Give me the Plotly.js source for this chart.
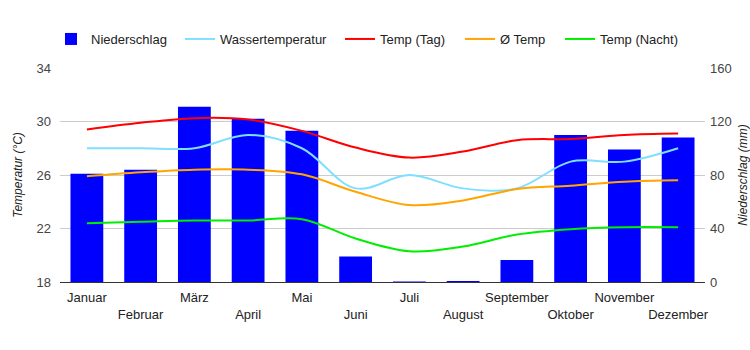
<!DOCTYPE html>
<html>
<head>
<meta charset="utf-8">
<script src="https://cdn.plot.ly/plotly-3.0.1.min.js"></script>
<style>html,body{margin:0;padding:0;background:#fff;}#chart{width:750px;height:350px;}</style>
</head>
<body>
<div id="chart"></div>
<script>
const months = ["Januar","Februar","März","April","Mai","Juni","Juli","August","September","Oktober","November","Dezember"];
const niederschlag = [81, 84, 131, 122, 113, 19, 0.4, 0.8, 16.5, 110, 99, 108];
const wassertemp = [28, 28, 28, 29, 28, 25, 26, 25, 25, 27, 27, 28];
const tempTag = [29.4, 29.9, 30.25, 30.15, 29.3, 28.05, 27.3, 27.75, 28.6, 28.7, 29.0, 29.1];
const tempAvg = [25.9, 26.2, 26.4, 26.4, 26.05, 24.75, 23.75, 24.1, 24.95, 25.2, 25.5, 25.6];
const tempNacht = [22.4, 22.5, 22.6, 22.6, 22.7, 21.25, 20.3, 20.65, 21.55, 21.95, 22.1, 22.1];
const tempTicks = [18, 22, 26, 30, 34];
const precipTicks = [0, 40, 80, 120, 160];

const tickText = months.map((m, i) => i % 2 === 1 ? "<br>" + m : m);
const font = "Liberation Sans, Arial, sans-serif";

const lineTrace = (y, name, color, lg) => ({
  x: months, y: y, name: name, type: "scatter", mode: "lines", yaxis: "y2", legend: lg,
  line: {color: color, width: 2, shape: "spline", smoothing: 1}
});

const data = [
  {x: months, y: niederschlag, name: "Niederschlag", type: "bar", yaxis: "y", legend: "legend", marker: {color: "#0000FF"}},
  lineTrace(wassertemp, "Wassertemperatur", "#80DFFF", "legend2"),
  lineTrace(tempTag, "Temp (Tag)", "#FF0000", "legend3"),
  lineTrace(tempAvg, "Ø Temp", "#FFA500", "legend4"),
  lineTrace(tempNacht, "Temp (Nacht)", "#00EE00", "legend5")
];

// legend item left edges in pixels (plot area starts at 60, width 645)
const legendPx = [51, 180, 340, 460, 560];
const mkLegend = px => ({orientation: "h", x: (px - 60) / 645, xanchor: "left", y: 1.1355, yanchor: "middle",
  font: {size: 13, color: "#222"}, bgcolor: "rgba(0,0,0,0)"});

const layout = {
  width: 750, height: 350,
  margin: {l: 60, r: 45, t: 68, b: 68},
  paper_bgcolor: "#fff", plot_bgcolor: "#fff",
  font: {family: font, size: 12, color: "#222"},
  bargap: 0.39,
  showlegend: true,
  legend: mkLegend(legendPx[0]),
  legend2: mkLegend(legendPx[1]),
  legend3: mkLegend(legendPx[2]),
  legend4: mkLegend(legendPx[3]),
  legend5: mkLegend(legendPx[4]),
  xaxis: {
    type: "category", tickmode: "array", tickvals: months, ticktext: tickText, tickangle: 0,
    showgrid: false, showline: true, linecolor: "#333", linewidth: 1,
    ticks: "", ticklabelstandoff: 3, tickfont: {size: 13, color: "#222"}, fixedrange: true
  },
  yaxis: {
    side: "right", range: [0, 160], autorange: false, tickmode: "array", tickvals: precipTicks,
    showgrid: false, zeroline: false, ticks: "", ticklabelstandoff: 4,
    tickfont: {size: 13, color: "#444"},
    title: {text: "Niederschlag (mm)", font: {size: 12, color: "#222", style: "italic"}, standoff: 8}
  },
  yaxis2: {
    side: "left", overlaying: "y", range: [18, 34], autorange: false, tickmode: "array", tickvals: tempTicks,
    showgrid: true, gridcolor: "#ccc", gridwidth: 1, zeroline: false, ticks: "", ticklabelstandoff: 8,
    tickfont: {size: 13, color: "#444"},
    title: {text: "Temperatur (°C)", font: {size: 12, color: "#222", style: "italic"}, standoff: 11}
  }
};

Plotly.newPlot("chart", data, layout, {displayModeBar: false, staticPlot: true});
</script>
</body>
</html>
